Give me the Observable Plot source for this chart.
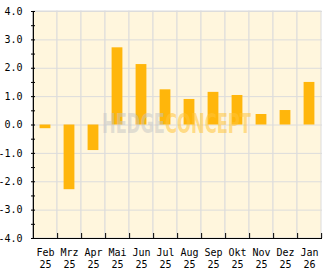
<!DOCTYPE html>
<html>
<head>
<meta charset="utf-8">
<script src="https://cdn.jsdelivr.net/npm/d3@7"></script>
<script src="https://cdn.jsdelivr.net/npm/@observablehq/plot@0.6"></script>
<style>
  html, body { margin: 0; padding: 0; background: #ffffff; }
  #chart svg { display: block; }
</style>
</head>
<body>
<div id="chart"></div>
<script>
const months = ["Feb", "Mrz", "Apr", "Mai", "Jun", "Jul", "Aug", "Sep", "Okt", "Nov", "Dez", "Jan"];
const years  = ["25", "25", "25", "25", "25", "25", "25", "25", "25", "25", "25", "26"];
const values = [-0.13, -2.28, -0.9, 2.72, 2.13, 1.24, 0.9, 1.15, 1.04, 0.37, 0.51, 1.5];
const yTicks = [-4, -3, -2, -1, 0, 1, 2, 3, 4];
const yMinorTicks = [-4, -3.5, -3, -2.5, -2, -1.5, -1, -0.5, 0, 0.5, 1, 1.5, 2, 2.5, 3, 3.5, 4];

const keys = months.map((m, i) => m + " " + years[i]);
const data = keys.map((k, i) => ({key: k, value: values[i]}));

const W = 332, H = 269;
const mL = 31, mR = 10, mT = 11, mB = 31;
const step = (W - mL - mR) / keys.length;

const font = "'DejaVu Sans Mono', monospace";
const wmFont = "'DejaVu Sans Condensed', 'DejaVu Sans', sans-serif";

const chart = Plot.plot({
  width: W,
  height: H,
  marginLeft: mL,
  marginRight: mR,
  marginTop: mT,
  marginBottom: mB,
  style: {fontFamily: font, fontSize: "10px", color: "#000", background: "#ffffff", overflow: "visible"},
  x: {domain: keys, padding: 0, axis: null, label: null},
  y: {domain: [-4, 4], axis: null, label: null},
  marks: [
    // background cells with vertical grid lines
    Plot.barY(keys, {x: d => d, y1: -4, y2: 4, fill: "#fff6dd", stroke: "#dcdcdc", strokeWidth: 1}),
    Plot.ruleY(yTicks, {stroke: "#dcdcdc", strokeWidth: 1}),
    // bars
    Plot.barY(data, {x: "key", y: "value", fill: "#ffb60b", insetLeft: 6.6, insetRight: 6.6}),
    // watermark
    Plot.text(["HEDGE"], {frameAnchor: "middle", text: d => d, textAnchor: "end", dx: -12, dy: 0,
      fill: "#c4c4c4", fillOpacity: 0.5, fontSize: 26, fontWeight: "bold", fontFamily: wmFont}),
    Plot.text(["CONCEPT"], {frameAnchor: "middle", text: d => d, textAnchor: "start", dx: -12, dy: 0,
      fill: "#ffc43a", fillOpacity: 0.55, fontSize: 26, fontWeight: "bold", fontFamily: wmFont}),
    // axis lines
    Plot.ruleX([keys[0]], {x: d => d, dx: -step / 2, y1: -4, y2: 4, stroke: "#000", strokeWidth: 1.2}),
    Plot.ruleY([-4], {stroke: "#000", strokeWidth: 1.2}),
    // y ticks (inward)
    Plot.axisY({ticks: yMinorTicks, tickSize: -4, tickFormat: () => "", stroke: "#000", label: null}),
    Plot.axisY({ticks: yTicks, tickSize: 0, tickPadding: 9, tickFormat: d => d.toFixed(1), fontSize: 10, fill: "#000", label: null}),
    // x ticks at band boundaries (inward)
    Plot.axisX({ticks: keys, tickSize: -5, tickFormat: () => "", dx: step / 2, stroke: "#000", label: null}),
    Plot.axisX({ticks: keys, tickSize: 0, tickPadding: 8, tickFormat: d => d.replace(" ", "\n"), lineHeight: 1.27, fontSize: 10, fill: "#000", label: null})
  ]
});

document.getElementById("chart").appendChild(chart);

// fit watermark widths
d3.select(chart).selectAll("text")
  .filter(function() { return this.textContent === "HEDGE" || this.textContent === "CONCEPT"; })
  .each(function() {
    d3.select(this).attr("lengthAdjust", "spacingAndGlyphs").attr("textLength", this.textContent === "HEDGE" ? 63 : 86);
  });
</script>
</body>
</html>
